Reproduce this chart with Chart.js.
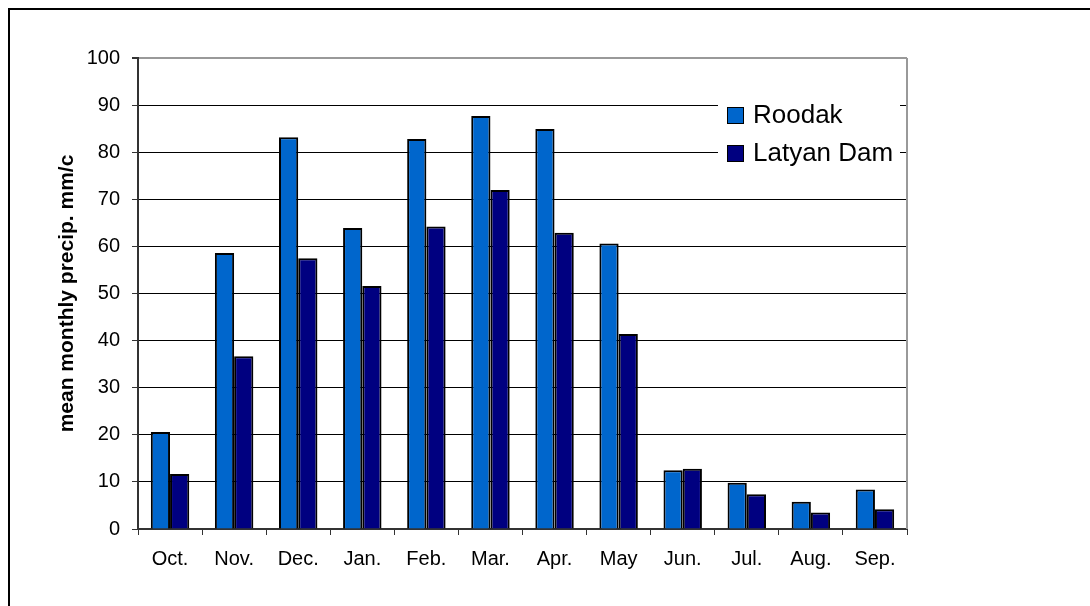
<!DOCTYPE html>
<html>
<head>
<meta charset="utf-8">
<script src="https://cdn.jsdelivr.net/npm/chart.js@4.4.1/dist/chart.umd.min.js"></script>
<style>
  html, body { margin: 0; padding: 0; background: #fff; overflow: hidden; }
  #frame { position: absolute; left: 8px; top: 8px; width: 1200px; height: 700px; border: 2px solid #000; }
  #wrap { position: absolute; left: 0; top: 0; width: 1090px; height: 606px; }
</style>
</head>
<body>
<div id="frame"></div>
<div id="wrap"><canvas id="precipChart" width="1090" height="606"></canvas></div>
<script>
// mean monthly precipitation
const months = ['Oct.', 'Nov.', 'Dec.', 'Jan.', 'Feb.', 'Mar.', 'Apr.', 'May', 'Jun.', 'Jul.', 'Aug.', 'Sep.'];
const roodak = [20.6, 58.6, 83.2, 63.9, 82.8, 87.7, 84.9, 60.6, 12.5, 9.8, 5.8, 8.4];
const latyanDam = [11.7, 36.7, 57.5, 51.6, 64.2, 72.0, 62.9, 41.4, 12.8, 7.4, 3.5, 4.2];
const seriesNames = ['Roodak', 'Latyan Dam'];
const seriesColors = ['#0066cc', '#000080'];
const yMin = 0, yMax = 100, yStep = 10;
const yTitle = 'mean monthly precip. mm/c';

const FONT = "'Liberation Sans', Arial, sans-serif";

// legend box drawn inside the plot (top right), like the original
const boxLegend = {
  id: 'boxLegend',
  afterDraw(chart) {
    const ctx = chart.ctx;
    const area = chart.chartArea;
    const x0 = area.right - 189;
    const y0 = area.top + 36;
    ctx.save();
    ctx.fillStyle = '#fff';
    ctx.fillRect(x0, y0, 182, 82);
    ctx.font = '26px ' + FONT;
    ctx.textBaseline = 'middle';
    chart.data.datasets.forEach((ds, i) => {
      const cy = y0 + 21 + i * 38;
      ctx.fillStyle = ds.backgroundColor;
      ctx.fillRect(x0 + 9, cy - 8, 16, 16);
      ctx.strokeStyle = '#000';
      ctx.lineWidth = 1;
      ctx.strokeRect(x0 + 9.5, cy - 7.5, 16, 16);
      ctx.fillStyle = '#000';
      ctx.fillText(ds.label, x0 + 35, cy + 1);
    });
    ctx.restore();
  },
  beforeDatasetsDraw(chart) {
    // grey frame on the right side of the plot
    const ctx = chart.ctx;
    const area = chart.chartArea;
    ctx.save();
    ctx.strokeStyle = '#999';
    ctx.lineWidth = 2;
    ctx.beginPath();
    ctx.moveTo(area.right, area.top);
    ctx.lineTo(area.right, area.bottom);
    ctx.stroke();
    ctx.restore();
  }
};

const ctx = document.getElementById('precipChart').getContext('2d');
const precipChart = new Chart(ctx, {
  type: 'bar',
  data: {
    labels: months,
    datasets: [{
      label: seriesNames[0],
      data: roodak,
      backgroundColor: seriesColors[0],
      borderColor: '#000',
      borderWidth: 2,
      categoryPercentage: 0.6,
      barPercentage: 1.0
    }, {
      label: seriesNames[1],
      data: latyanDam,
      backgroundColor: seriesColors[1],
      borderColor: '#000',
      borderWidth: 2,
      categoryPercentage: 0.6,
      barPercentage: 1.0
    }]
  },
  options: {
    responsive: false,
    animation: false,
    layout: { padding: { left: 0, top: 58, right: 183, bottom: 0 } },
    plugins: {
      legend: { display: false },
      tooltip: { enabled: false }
    },
    scales: {
      x: {
        grid: {
          offset: true,
          drawOnChartArea: false,
          tickLength: 6,
          tickColor: '#333',
          tickWidth: 1
        },
        border: { color: '#333', width: 2 },
        ticks: { color: '#000', font: { family: FONT, size: 20 }, padding: 12, maxRotation: 0 },
        afterFit(scale) { scale.height = 77; }
      },
      y: {
        min: yMin,
        max: yMax,
        ticks: { stepSize: yStep, color: '#000', font: { family: FONT, size: 20 }, padding: 12 },
        grid: {
          color: c => (c.tick && c.tick.value === yMax) ? '#999' : '#000',
          lineWidth: c => (c.tick && c.tick.value === yMax) ? 2 : 1,
          tickLength: 6,
          tickColor: '#333'
        },
        border: { color: '#333', width: 2 },
        title: {
          display: true,
          text: yTitle,
          color: '#000',
          font: { family: FONT, size: 21, weight: 'bold' },
          padding: { top: 55, bottom: 0 }
        },
        afterFit(scale) { scale.width = 138; }
      }
    }
  },
  plugins: [boxLegend]
});
</script>
</body>
</html>
